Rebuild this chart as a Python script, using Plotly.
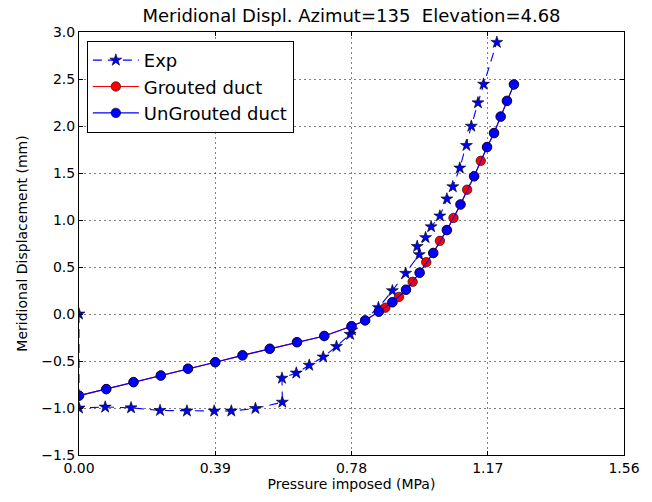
import plotly.graph_objects as go

# Pressure steps (MPa) and meridional displacement (mm)
exp_x = [0.000, 0.000, 0.075, 0.149, 0.232, 0.309, 0.387, 0.436, 0.505, 0.582,
         0.581, 0.622, 0.659, 0.699, 0.737, 0.776, 0.781, 0.857, 0.897, 0.935,
         0.974, 0.968, 0.992, 1.008, 1.033, 1.053, 1.070, 1.090, 1.109, 1.123,
         1.142, 1.158, 1.196]
exp_y = [0.000, -1.000, -0.990, -0.998, -1.026, -1.032, -1.032, -1.032, -1.005, -0.938,
         -0.683, -0.628, -0.545, -0.457, -0.345, -0.216, -0.170, 0.068, 0.248, 0.433,
         0.632, 0.719, 0.813, 0.928, 1.043, 1.224, 1.354, 1.553, 1.793, 1.998,
         2.247, 2.445, 2.890]

grouted_x = [0.000, 0.078, 0.156, 0.234, 0.312, 0.390, 0.468, 0.546, 0.624, 0.702,
             0.780, 0.819, 0.858, 0.877, 0.897, 0.916, 0.936, 0.955, 0.975, 0.994,
             1.014, 1.033, 1.053, 1.072, 1.092, 1.111, 1.131, 1.150, 1.168, 1.188,
             1.207, 1.225, 1.245]
grouted_y = [-0.869, -0.799, -0.725, -0.655, -0.582, -0.513, -0.440, -0.370, -0.300, -0.234,
             -0.130, -0.068, 0.025, 0.067, 0.125, 0.182, 0.258, 0.342, 0.439, 0.551,
             0.649, 0.778, 0.893, 1.022, 1.165, 1.322, 1.465, 1.629, 1.776, 1.925,
             2.100, 2.267, 2.442]

ungrouted_x = [0.000, 0.078, 0.156, 0.234, 0.312, 0.390, 0.468, 0.546, 0.624, 0.702,
               0.780, 0.819, 0.858, 0.897, 0.936, 0.975, 1.014, 1.053, 1.092, 1.131,
               1.168, 1.188, 1.207, 1.225, 1.245]
ungrouted_y = [-0.869, -0.799, -0.725, -0.655, -0.582, -0.513, -0.440, -0.370, -0.300, -0.234,
               -0.130, -0.068, 0.025, 0.125, 0.258, 0.439, 0.649, 0.893, 1.165, 1.465,
               1.776, 1.925, 2.100, 2.267, 2.442]

x_ticks = [0.00, 0.39, 0.78, 1.17, 1.56]
x_tick_text = ["0.00", "0.39", "0.78", "1.17", "1.56"]
y_ticks = [-1.5, -1.0, -0.5, 0.0, 0.5, 1.0, 1.5, 2.0, 2.5, 3.0]

FONT = "DejaVu Sans"

fig = go.Figure()

fig.add_trace(go.Scatter(
    x=exp_x, y=exp_y, name="Exp", mode="lines+markers", cliponaxis=True,
    line=dict(color="#0000ff", width=1.1, dash="9px,6px"),
    marker=dict(symbol="star", size=9, color="#0000ff",
                line=dict(color="black", width=0.6)),
))
fig.add_trace(go.Scatter(
    x=grouted_x, y=grouted_y, name="Grouted duct", mode="lines+markers", cliponaxis=True,
    line=dict(color="#ff0000", width=1.1),
    marker=dict(symbol="circle", size=9.5, color="#ff0000",
                line=dict(color="black", width=0.6)),
))
fig.add_trace(go.Scatter(
    x=ungrouted_x, y=ungrouted_y, name="UnGrouted duct", mode="lines+markers", cliponaxis=True,
    line=dict(color="#0000ff", width=1.1),
    marker=dict(symbol="circle", size=9.5, color="#0000ff",
                line=dict(color="black", width=0.6)),
))

axis_common = dict(
    showline=True, linecolor="black", linewidth=1, mirror="ticks",
    ticks="inside", ticklen=4, tickcolor="black",
    showgrid=True, gridcolor="rgba(0,0,0,0.5)", griddash="2px,3px", gridwidth=1,
    zeroline=False, tickfont=dict(family=FONT, size=14, color="black"),
)

fig.update_layout(
    width=652, height=502,
    margin=dict(l=79, r=16, t=32, b=40, pad=0),
    paper_bgcolor="white", plot_bgcolor="white",
    font=dict(family=FONT, color="black"),
    title=dict(text="Meridional Displ. Azimut=135  Elevation=4.68",
               font=dict(family=FONT, size=18, color="black"),
               x=0.5, xref="paper", y=0.968, yref="container",
               xanchor="center", yanchor="middle"),
    xaxis=dict(range=[0, 1.56], tickvals=x_ticks, ticktext=x_tick_text,
               title=dict(text="Pressure imposed (MPa)", standoff=4,
                          font=dict(family=FONT, size=14, color="black")),
               **axis_common),
    yaxis=dict(range=[-1.5, 3.0], tickvals=y_ticks, tickformat=".1f",
               title=dict(text="Meridional Displacement (mm)", standoff=10,
                          font=dict(family=FONT, size=14, color="black")),
               **axis_common),
    legend=dict(x=0.0144, y=0.979, xanchor="left", yanchor="top",
                bgcolor="white", bordercolor="black", borderwidth=1,
                font=dict(family=FONT, size=18, color="black"),
                itemwidth=46, tracegroupgap=0),
    showlegend=True,
)

fig.write_html("out.html")
